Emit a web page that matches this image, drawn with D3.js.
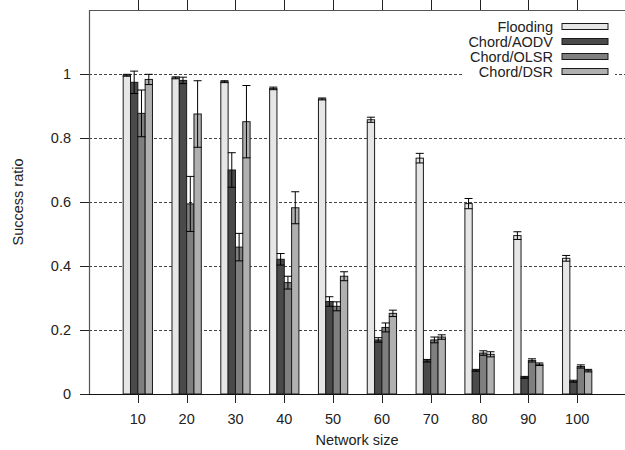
<!DOCTYPE html>
<html>
<head>
<meta charset="utf-8">
<script src="https://cdn.jsdelivr.net/npm/d3@7"></script>
<style>
  body { margin: 0; background: #fff; }
  text { font-family: "Liberation Sans", Arial, sans-serif; fill: #222; }
</style>
</head>
<body>
<div id="chart"></div>
<script>
// Network sizes on the x axis
const sizes = [10, 20, 30, 40, 50, 60, 70, 80, 90, 100];
const seriesNames = ['Flooding', 'Chord/AODV', 'Chord/OLSR', 'Chord/DSR'];
const yTicks = [0, 0.2, 0.4, 0.6, 0.8, 1];

// success ratio and error (+/-) per series
const flooding    = [0.996, 0.988, 0.976, 0.955, 0.922, 0.857, 0.737, 0.595, 0.495, 0.424];
const floodingErr = [0.003, 0.003, 0.003, 0.004, 0.003, 0.008, 0.015, 0.016, 0.012, 0.009];
const aodv        = [0.974, 0.980, 0.700, 0.421, 0.289, 0.169, 0.104, 0.074, 0.052, 0.040];
const aodvErr     = [0.035, 0.010, 0.054, 0.018, 0.015, 0.007, 0.004, 0.003, 0.003, 0.003];
const olsr        = [0.877, 0.594, 0.459, 0.348, 0.274, 0.208, 0.169, 0.128, 0.105, 0.086];
const olsrErr     = [0.073, 0.086, 0.043, 0.020, 0.014, 0.014, 0.009, 0.007, 0.005, 0.005];
const dsr         = [0.983, 0.875, 0.851, 0.582, 0.368, 0.252, 0.178, 0.124, 0.093, 0.073];
const dsrErr      = [0.016, 0.104, 0.113, 0.050, 0.014, 0.010, 0.007, 0.008, 0.004, 0.004];

const values = [flooding, aodv, olsr, dsr];
const errors = [floodingErr, aodvErr, olsrErr, dsrErr];
const fills = ['#e6e6e6', '#4a4a4a', '#7f7f7f', '#b0b0b0'];

const w = 625, h = 450;
const mLeft = 89, mRight = 626, mTop = 10, mBottom = 394;

const svg = d3.select('#chart').append('svg')
  .attr('width', w)
  .attr('height', h);

const x = d3.scaleLinear().domain([0, 110]).range([mLeft, mRight]);
const y = d3.scaleLinear().domain([0, 1.2]).range([mBottom, mTop]);
const barW = 1.5; // in x units

// grid lines (dashed), skip 0
svg.selectAll('.grid')
  .data(yTicks.filter(d => d > 0))
  .enter().append('line')
  .attr('x1', mLeft).attr('x2', mRight)
  .attr('y1', d => Math.round(y(d)) + 0.5)
  .attr('y2', d => Math.round(y(d)) + 0.5)
  .style('stroke', '#444')
  .style('stroke-width', 1)
  .style('stroke-dasharray', '3,2');

// legend background hides grid
svg.append('rect')
  .attr('x', 462).attr('y', 14)
  .attr('width', 153).attr('height', 66)
  .style('fill', '#fff');

// bars
seriesNames.forEach((name, s) => {
  const off = (s - 2) * barW;
  svg.selectAll('.bar' + s)
    .data(sizes)
    .enter().append('rect')
    .attr('x', d => x(d + off))
    .attr('y', (d, i) => y(values[s][i]))
    .attr('width', x(barW) - x(0))
    .attr('height', (d, i) => y(0) - y(values[s][i]))
    .style('fill', fills[s])
    .style('stroke', '#1a1a1a')
    .style('stroke-width', 1);
});

// error bars
seriesNames.forEach((name, s) => {
  const off = (s - 2) * barW + barW / 2;
  const g = svg.append('g').style('stroke', '#000').style('stroke-width', 1);
  sizes.forEach((d, i) => {
    const cx = x(d + off);
    const hi = y(values[s][i] + errors[s][i]);
    const lo = y(values[s][i] - errors[s][i]);
    g.append('line').attr('x1', cx).attr('x2', cx).attr('y1', hi).attr('y2', lo);
    g.append('line').attr('x1', cx - 4).attr('x2', cx + 4).attr('y1', hi).attr('y2', hi);
    g.append('line').attr('x1', cx - 4).attr('x2', cx + 4).attr('y1', lo).attr('y2', lo);
  });
});

// frame: left + top
svg.append('line')
  .attr('x1', mLeft + 0.5).attr('x2', mLeft + 0.5)
  .attr('y1', mTop).attr('y2', mBottom)
  .style('stroke', '#555').style('stroke-width', 1.2);
svg.append('line')
  .attr('x1', mLeft).attr('x2', w)
  .attr('y1', mTop + 0.5).attr('y2', mTop + 0.5)
  .style('stroke', '#555').style('stroke-width', 1.2);

// baseline
svg.append('line')
  .attr('x1', 80).attr('x2', w)
  .attr('y1', mBottom + 0.5).attr('y2', mBottom + 0.5)
  .style('stroke', '#111').style('stroke-width', 1.2);

// y ticks + labels
svg.selectAll('.ytick')
  .data(yTicks)
  .enter().append('line')
  .attr('x1', 80).attr('x2', mLeft)
  .attr('y1', d => Math.round(y(d)) + 0.5)
  .attr('y2', d => Math.round(y(d)) + 0.5)
  .style('stroke', '#222');

svg.selectAll('.ylab')
  .data(yTicks)
  .enter().append('text')
  .attr('x', 71)
  .attr('y', d => y(d) + 5)
  .style('text-anchor', 'end')
  .style('font-size', '14.5px')
  .text(d => d === 0 || d === 1 ? d : d.toFixed(1));

// x ticks (out, mirrored at top) + labels
svg.selectAll('.xtick')
  .data(sizes)
  .enter().append('line')
  .attr('x1', d => Math.round(x(d)) + 0.5).attr('x2', d => Math.round(x(d)) + 0.5)
  .attr('y1', mBottom).attr('y2', mBottom + 9)
  .style('stroke', '#222');
svg.selectAll('.xtickTop')
  .data(sizes)
  .enter().append('line')
  .attr('x1', d => Math.round(x(d)) + 0.5).attr('x2', d => Math.round(x(d)) + 0.5)
  .attr('y1', 0).attr('y2', mTop)
  .style('stroke', '#222');

svg.selectAll('.xlab')
  .data(sizes)
  .enter().append('text')
  .attr('x', d => x(d))
  .attr('y', 423.5)
  .style('text-anchor', 'middle')
  .style('font-size', '14.5px')
  .text(d => d);

// axis titles
svg.append('text')
  .attr('x', 357).attr('y', 445)
  .style('text-anchor', 'middle')
  .style('font-size', '14.5px')
  .text('Network size');

svg.append('text')
  .attr('transform', 'translate(23,202) rotate(-90)')
  .style('text-anchor', 'middle')
  .style('font-size', '14.5px')
  .text('Success ratio');

// legend
const leg = svg.selectAll('.leg')
  .data(seriesNames)
  .enter().append('g')
  .attr('transform', (d, i) => `translate(0,${26.5 + i * 15})`);

leg.append('text')
  .attr('x', 553).attr('y', 5)
  .style('text-anchor', 'end')
  .style('font-size', '14.5px')
  .text(d => d);

leg.append('rect')
  .attr('x', 562).attr('y', -3)
  .attr('width', 46).attr('height', 6)
  .style('fill', (d, i) => fills[i])
  .style('stroke', '#1a1a1a')
  .style('stroke-width', 1);
</script>
</body>
</html>
